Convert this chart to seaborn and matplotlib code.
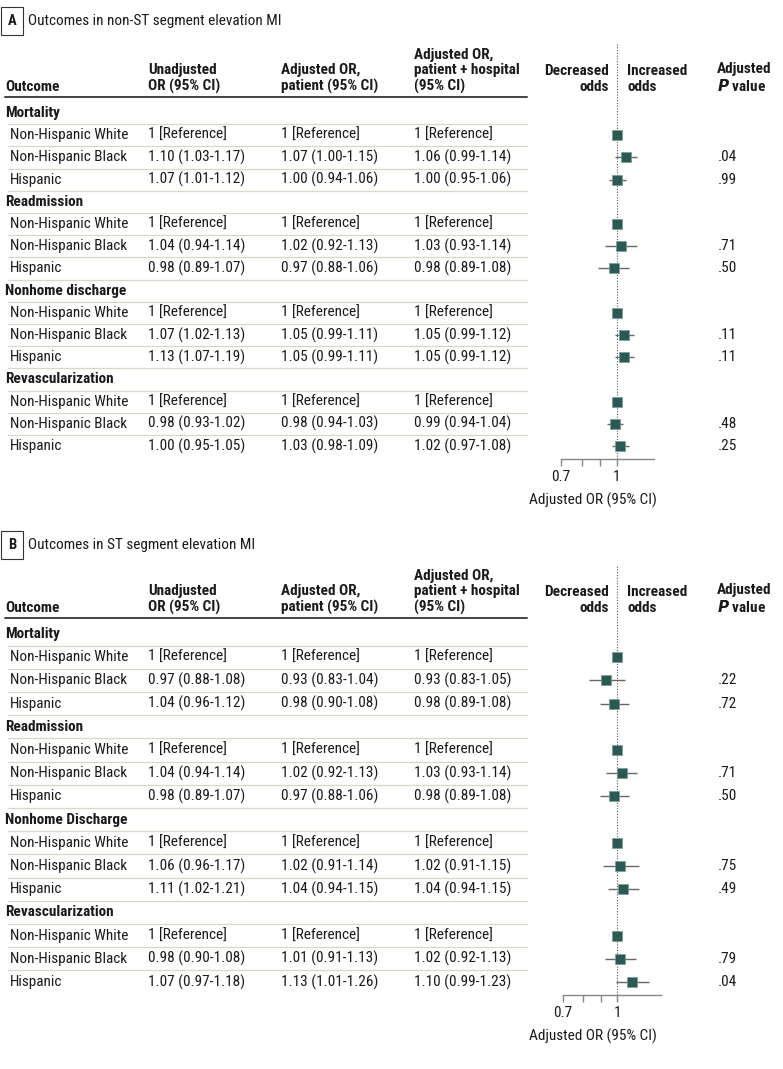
import numpy as np
import pandas as pd
import matplotlib
matplotlib.use("Agg")
import matplotlib.pyplot as plt
from matplotlib import font_manager
import seaborn as sns

sns.set_style("white")
names = set(f.name for f in font_manager.fontManager.ttflist)
main_font = 'Lato'
FS = 10
for cand in ['Roboto Condensed', 'Open Sans Condensed', 'Liberation Sans Narrow']:
    if cand in names:
        main_font = cand
        FS = 11
        break
plt.rcParams['font.family'] = [main_font, 'DejaVu Sans']
plt.rcParams['mathtext.fontset'] = 'custom'
plt.rcParams['mathtext.rm'] = main_font
plt.rcParams['mathtext.it'] = main_font + ':italic'
plt.rcParams['mathtext.bf'] = main_font + ':bold'

# data
groups = ["Non-Hispanic White", "Non-Hispanic Black", "Hispanic"]
outcomes_a = ["Mortality", "Readmission", "Nonhome discharge", "Revascularization"]
outcomes_b = ["Mortality", "Readmission", "Nonhome Discharge", "Revascularization"]

# (estimate, lower, upper) for Black / Hispanic rows, in outcome order
unadj_a = [(1.10, 1.03, 1.17), (1.07, 1.01, 1.12), (1.04, 0.94, 1.14), (0.98, 0.89, 1.07),
           (1.07, 1.02, 1.13), (1.13, 1.07, 1.19), (0.98, 0.93, 1.02), (1.00, 0.95, 1.05)]
adjpt_a = [(1.07, 1.00, 1.15), (1.00, 0.94, 1.06), (1.02, 0.92, 1.13), (0.97, 0.88, 1.06),
           (1.05, 0.99, 1.11), (1.05, 0.99, 1.11), (0.98, 0.94, 1.03), (1.03, 0.98, 1.09)]
adjhosp_a = [(1.06, 0.99, 1.14), (1.00, 0.95, 1.06), (1.03, 0.93, 1.14), (0.98, 0.89, 1.08),
             (1.05, 0.99, 1.12), (1.05, 0.99, 1.12), (0.99, 0.94, 1.04), (1.02, 0.97, 1.08)]
pval_a = [".04", ".99", ".71", ".50", ".11", ".11", ".48", ".25"]

unadj_b = [(0.97, 0.88, 1.08), (1.04, 0.96, 1.12), (1.04, 0.94, 1.14), (0.98, 0.89, 1.07),
           (1.06, 0.96, 1.17), (1.11, 1.02, 1.21), (0.98, 0.90, 1.08), (1.07, 0.97, 1.18)]
adjpt_b = [(0.93, 0.83, 1.04), (0.98, 0.90, 1.08), (1.02, 0.92, 1.13), (0.97, 0.88, 1.06),
           (1.02, 0.91, 1.14), (1.04, 0.94, 1.15), (1.01, 0.91, 1.13), (1.13, 1.01, 1.26)]
adjhosp_b = [(0.93, 0.83, 1.05), (0.98, 0.89, 1.08), (1.03, 0.93, 1.14), (0.98, 0.89, 1.08),
             (1.02, 0.91, 1.15), (1.04, 0.94, 1.15), (1.02, 0.92, 1.13), (1.10, 0.99, 1.23)]
pval_b = [".22", ".72", ".71", ".50", ".75", ".49", ".79", ".04"]

W, H = 783, 1069
fig = plt.figure(figsize=(W / 100, H / 100), dpi=100)
bg = fig.add_axes([0, 0, 1, 1])
bg.set_xlim(0, W)
bg.set_ylim(H, 0)
bg.axis('off')

SQ = '#2b5954'
LINE = '#d9d6cc'
TXT = '#1a1a1a'
col_x = [148, 281, 414]


def fmt(t):
    return "%.2f (%.2f-%.2f)" % t


def panel(letter, title, outcomes, cols, pvals, top, row0, step, ax_x0, ax_x1, xmax):
    # title with boxed letter
    bg.text(12, top, letter, ha='center', va='center', fontsize=FS - 0.5, fontweight='bold',
            color=TXT, bbox=dict(boxstyle='square,pad=0.45', fc='white', ec='#333333', lw=0.8))
    bg.text(28, top, title, ha='left', va='center', fontsize=FS, color=TXT)

    hb = row0 - 19  # header bottom
    kw = dict(va='bottom', fontsize=FS, fontweight='bold', linespacing=1.15, color=TXT)
    bg.text(5, hb, "Outcome", ha='left', **kw)
    bg.text(col_x[0], hb, "Unadjusted\nOR (95% CI)", ha='left', **kw)
    bg.text(col_x[1], hb, "Adjusted OR,\npatient (95% CI)", ha='left', **kw)
    bg.text(col_x[2], hb, "Adjusted OR,\npatient + hospital\n(95% CI)", ha='left', **kw)
    bg.text(609, hb, "Decreased\nodds", ha='right', multialignment='right', **kw)
    bg.text(627, hb, "Increased\nodds", ha='left', **kw)
    bg.text(717, hb, r"Adjusted" + "\n" + r"$\mathbfit{P}$ value", ha='left', **kw)
    bg.plot([5, 527], [row0 - 16, row0 - 16], color='#444444', lw=1.4)

    ys, xs, los, his = [], [], [], []
    n_rows = len(outcomes) * 4
    for k, out in enumerate(outcomes):
        y = row0 + 4 * k * step
        bg.text(5, y, out, ha='left', va='center', fontsize=FS, fontweight='bold', color=TXT)
        for g, grp in enumerate(groups):
            yy = y + (g + 1) * step
            bg.text(10, yy, grp, ha='left', va='center', fontsize=FS, color=TXT)
            if g == 0:
                for cx in col_x:
                    bg.text(cx, yy, "1 [Reference]", ha='left', va='center', fontsize=FS,
                            color=TXT)
                ys.append(yy); xs.append(1.0); los.append(np.nan); his.append(np.nan)
            else:
                j = 2 * k + g - 1
                for cx, col in zip(col_x, cols):
                    bg.text(cx, yy, fmt(col[j]), ha='left', va='center', fontsize=FS,
                            color=TXT)
                bg.text(737, yy, pvals[j], ha='right', va='center', fontsize=FS, color=TXT)
                e, lo, hi = cols[2][j]
                ys.append(yy); xs.append(e); los.append(lo); his.append(hi)
    for r in range(n_rows - 1):
        yl = row0 + (r + 0.5) * step
        bg.plot([8, 527], [yl, yl], color=LINE, lw=0.9)

    # forest plot
    y_top = hb - 50
    y_axis = row0 + (n_rows - 1) * step + 13
    ax = fig.add_axes([ax_x0 / W, 1 - y_axis / H, (ax_x1 - ax_x0) / W, (y_axis - y_top) / H])
    ax.set_xscale('log')
    ax.set_xlim(0.7, xmax)
    ax.set_ylim(y_axis, y_top)
    df = pd.DataFrame({'est': xs, 'lo': los, 'hi': his, 'y': ys})
    ax.axvline(1, color='#555555', ls=(0, (1, 1.5)), lw=0.8, zorder=1)
    ax.hlines(df['y'], df['lo'], df['hi'], color='#666666', lw=1, zorder=2)
    sns.scatterplot(data=df, x='est', y='y', marker='s', s=48, color=SQ, edgecolor='#7a9a96',
                    linewidth=0.5, ax=ax, zorder=3, legend=False)
    for s in ['top', 'right', 'left']:
        ax.spines[s].set_visible(False)
    ax.spines['bottom'].set_color('#888888')
    ax.spines['bottom'].set_linewidth(1)
    ax.set_xticks([0.7, 1])
    ax.set_xticklabels(["0.7", "1"], fontsize=FS, color=TXT)
    ax.set_xticks([0.8, 0.9], minor=True)
    ax.xaxis.set_minor_formatter(matplotlib.ticker.NullFormatter())
    ax.tick_params(axis='x', which='both', length=5, color='#888888', width=1, pad=3,
                   bottom=True)
    ax.set_yticks([])
    ax.set_ylabel('')
    ax.set_xlabel("Adjusted OR (95% CI)", fontsize=FS, color=TXT)
    ax.xaxis.set_label_coords((593 - ax_x0) / (ax_x1 - ax_x0), -0.085 * 400 / (y_axis - y_top))
    ax.patch.set_alpha(0)


panel("A", "Outcomes in non-ST segment elevation MI", outcomes_a,
      [unadj_a, adjpt_a, adjhosp_a], pval_a, 21, 113, 22.2, 561, 654, 1.27)
panel("B", "Outcomes in ST segment elevation MI", outcomes_b,
      [unadj_b, adjpt_b, adjhosp_b], pval_b, 545, 634, 23.2, 563, 661, 1.33)

fig.savefig("out.png", dpi=100)
